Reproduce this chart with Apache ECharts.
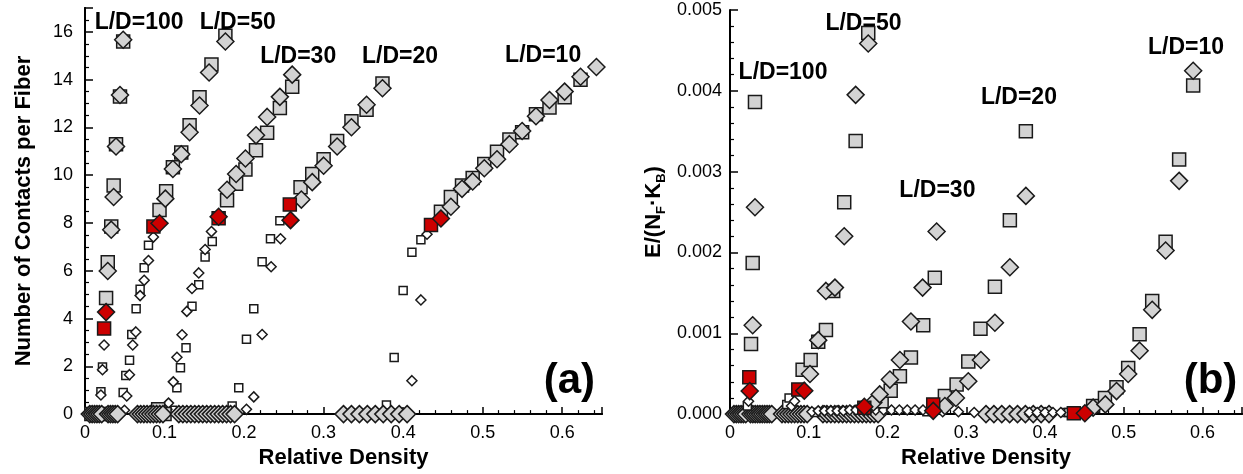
<!DOCTYPE html>
<html>
<head>
<meta charset="utf-8">
<script src="https://cdn.jsdelivr.net/npm/echarts@6/dist/echarts.min.js"></script>
<style>
  html, body { margin: 0; padding: 0; background: #fff; }
  #chart { width: 1243px; height: 474px; }
</style>
</head>
<body>
<div id="chart"></div>
<script>
// ---------- panel (a): contacts per fiber ----------
var graySquaresA = [
  [0.0265, 4.86], [0.0286, 6.36], [0.033, 7.85], [0.036, 9.57], [0.039, 11.3], [0.044, 13.3], [0.048, 15.6],
  [0.0937, 8.54], [0.102, 9.33], [0.1105, 10.33], [0.121, 10.95], [0.1315, 12.09], [0.144, 13.26], [0.159, 14.64], [0.1765, 15.84],
  [0.1786, 8.95], [0.19, 9.64], [0.2017, 10.24], [0.215, 11.05], [0.229, 11.78], [0.245, 12.81], [0.2605, 13.7],
  [0.271, 9.5], [0.2857, 10.05], [0.3, 10.67], [0.317, 11.43], [0.335, 12.26], [0.354, 12.74], [0.374, 13.84],
  [0.4475, 8.47], [0.46, 9.09], [0.474, 9.57], [0.4874, 9.88], [0.502, 10.47], [0.518, 10.98], [0.5336, 11.5],
  [0.5496, 11.8], [0.567, 12.55], [0.584, 12.84], [0.603, 13.26], [0.623, 14.0],
  [0.008, 0], [0.027, 0], [0.034, 0], [0.092, 0.2], [0.1, 0]
];
var grayDiamondsA = [
  [0.0286, 5.99], [0.033, 7.72], [0.036, 9.09], [0.039, 11.2], [0.044, 13.36], [0.048, 15.67],
  [0.101, 9.02], [0.1105, 10.26], [0.121, 10.88], [0.1315, 11.8], [0.144, 12.92], [0.156, 14.3], [0.1765, 15.6],
  [0.1786, 9.39], [0.19, 10.05], [0.2017, 10.7], [0.215, 11.67], [0.229, 12.44], [0.245, 13.28], [0.2605, 14.21],
  [0.272, 8.98], [0.2857, 9.71], [0.3, 10.4], [0.317, 11.2], [0.335, 12.01], [0.354, 12.95], [0.374, 13.64],
  [0.46, 8.68], [0.474, 9.43], [0.4874, 9.74], [0.502, 10.29], [0.518, 10.67], [0.5336, 11.3], [0.5496, 11.85],
  [0.567, 12.47], [0.584, 13.15], [0.603, 13.5], [0.623, 14.12], [0.643, 14.53]
];
var zeroDiamondsA = [
  0.006, 0.009, 0.012, 0.015, 0.018, 0.021, 0.029, 0.032, 0.035, 0.038, 0.041,
  0.066, 0.07, 0.074, 0.078, 0.082, 0.086, 0.09, 0.094, 0.098,
  0.118, 0.123, 0.128, 0.133, 0.138, 0.143, 0.148, 0.153, 0.158, 0.163, 0.168, 0.173, 0.178, 0.183, 0.188,
  0.325, 0.335, 0.345, 0.355, 0.365, 0.375, 0.385, 0.395, 0.405
];
var redSquaresA = [[0.024, 3.58], [0.086, 7.85], [0.168, 8.2], [0.2575, 8.77], [0.435, 7.92]];
var redDiamondsA = [[0.0265, 4.27], [0.0937, 7.99], [0.168, 8.26], [0.2584, 8.12], [0.4475, 8.19]];
var whiteSquaresA = [
  [0.02, 0.94], [0.022, 1.97],
  [0.048, 0.9], [0.0513, 1.62], [0.056, 2.25], [0.0588, 3.33], [0.0643, 4.41], [0.0693, 5.23], [0.0744, 6.13], [0.0798, 7.07],
  [0.11, 0.16], [0.1155, 1.1], [0.12, 1.94], [0.127, 2.78], [0.1345, 4.52], [0.143, 5.42], [0.151, 6.58], [0.16, 7.23],
  [0.185, 0.34], [0.1933, 1.1], [0.203, 3.13], [0.2122, 4.41], [0.2227, 6.38], [0.2332, 7.34], [0.245, 8.09],
  [0.379, 0.38], [0.3887, 2.37], [0.4, 5.17], [0.411, 6.78], [0.4223, 7.3]
];
var whiteDiamondsA = [
  [0.02, 0.8], [0.022, 1.86], [0.024, 2.89],
  [0.0496, 0.16], [0.0525, 0.76], [0.0559, 1.65], [0.06, 2.89], [0.0639, 3.44], [0.0693, 4.96], [0.0744, 5.6], [0.0798, 6.43], [0.086, 7.41],
  [0.103, 0.2], [0.105, 0.46], [0.111, 1.35], [0.1156, 2.38], [0.122, 3.32], [0.128, 4.3], [0.1345, 5.26], [0.143, 5.91], [0.151, 6.89], [0.159, 7.64],
  [0.203, 0.2], [0.2122, 0.72], [0.2227, 3.33], [0.234, 6.17], [0.2458, 7.34],
  [0.411, 1.4], [0.4223, 4.78], [0.43, 7.53]
];
var tagsA = [
  ['L/D=100', 0.068, 16.4], ['L/D=50', 0.192, 16.4], ['L/D=30', 0.268, 14.96],
  ['L/D=20', 0.396, 14.96], ['L/D=10', 0.576, 15.0]
];

// ---------- panel (b): energy ----------
var graySquaresB = [
  [0.0267, 0.000866], [0.0288, 0.00187], [0.0317, 0.003862],
  [0.0922, 0.00055], [0.1024, 0.00067], [0.112, 0.000894], [0.1218, 0.00104], [0.131, 0.001524], [0.145, 0.00262], [0.1595, 0.00338], [0.1755, 0.004715],
  [0.1925, 0.00016], [0.204, 0.00029], [0.2157, 0.000467], [0.2297, 0.0007], [0.2453, 0.0011], [0.26, 0.001687],
  [0.2728, 0.000223], [0.2877, 0.000366], [0.3025, 0.00065], [0.318, 0.001057], [0.3363, 0.001577], [0.3553, 0.0024], [0.3756, 0.0035],
  [0.461, 0.0001], [0.476, 0.0002], [0.4907, 0.000333], [0.5055, 0.00057], [0.52, 0.000988], [0.536, 0.0014], [0.553, 0.002134], [0.5702, 0.00315], [0.588, 0.004065]
];
var grayDiamondsB = [
  [0.0288, 0.0011], [0.0317, 0.00256],
  [0.1015, 0.000496], [0.112, 0.000915], [0.1218, 0.001524], [0.1332, 0.001565], [0.145, 0.0022], [0.1595, 0.00395], [0.1755, 0.004585],
  [0.182, 0.000143], [0.19, 0.000244], [0.203, 0.000427], [0.2157, 0.00067], [0.2297, 0.001146], [0.2445, 0.001565], [0.2623, 0.00226],
  [0.2728, 0.0001], [0.2868, 0.0002], [0.3025, 0.000406], [0.3185, 0.00067], [0.3363, 0.00113], [0.3553, 0.001817], [0.3756, 0.0027],
  [0.461, 0.00008], [0.4765, 0.00012], [0.4907, 0.000285], [0.5055, 0.000496], [0.52, 0.000785], [0.536, 0.00129], [0.553, 0.002024], [0.5702, 0.002886], [0.588, 0.004248]
];
var zeroDiamondsB = [
  0.005, 0.008, 0.011, 0.014, 0.017, 0.02, 0.026, 0.029, 0.032, 0.035, 0.038, 0.041, 0.044, 0.047, 0.05, 0.053,
  0.066, 0.07, 0.074, 0.078, 0.082, 0.086, 0.09, 0.094, 0.098,
  0.118, 0.123, 0.128, 0.133, 0.138, 0.143, 0.148, 0.153, 0.158, 0.163, 0.168, 0.173, 0.178, 0.183, 0.188,
  0.325, 0.335, 0.345, 0.355, 0.365, 0.375, 0.385, 0.395, 0.405
];
var redSquaresB = [[0.0245, 0.000455], [0.0867, 0.000305], [0.1705, 0.00008], [0.258, 0.00012], [0.4365, 0.00001]];
var redDiamondsB = [[0.025, 0.000285], [0.0943, 0.00029], [0.1705, 0.00009], [0.258, 0.00004], [0.4505, 0.00001]];
var whiteSquaresB = [
  [0.022, 0.0001], [0.072, 0.00012], [0.075, 0.0002], [0.108, 0.00002], [0.25, 0.00003], [0.425, 0.00002], [0.43, 0.00002]
];
var whiteDiamondsB = [
  [0.0235, 0.00016], [0.078, 0.0001], [0.082, 0.00016],
  [0.104, 0.00003], [0.112, 0.00004], [0.12, 0.00004], [0.128, 0.00004], [0.136, 0.00004], [0.144, 0.00004], [0.152, 0.00005],
  [0.16, 0.00005], [0.176, 0.00005], [0.185, 0.00005], [0.195, 0.00005], [0.205, 0.00005], [0.215, 0.00005], [0.225, 0.00005],
  [0.235, 0.00005], [0.245, 0.00005], [0.27, 0.00003], [0.29, 0.00003], [0.31, 0.00002],
  [0.38, 0.00002], [0.39, 0.00002], [0.4, 0.00002], [0.41, 0.00002], [0.42, 0.00002]
];
var tagsB = [
  ['L/D=100', 0.0673, 0.004226], ['L/D=50', 0.1694, 0.00483], ['L/D=30', 0.2633, 0.002768],
  ['L/D=20', 0.3668, 0.003915], ['L/D=10', 0.579, 0.004533]
];

var font = '"Liberation Sans", Arial, Helvetica, sans-serif';

function zeros(xs) {
  return xs.map(function (x) { return [x, 0]; });
}

function marks(data, xi, yi, symbol, size, fill, z) {
  return {
    type: 'scatter',
    xAxisIndex: xi,
    yAxisIndex: yi,
    data: data,
    symbol: symbol,
    symbolSize: size,
    clip: false,
    silent: true,
    z: z,
    itemStyle: { color: fill, borderColor: '#1a1a1a', borderWidth: 1.5, opacity: 1 }
  };
}

// text placed at data coordinates (panel labels)
function tags(list, xi, yi, size) {
  return {
    type: 'scatter',
    xAxisIndex: xi,
    yAxisIndex: yi,
    symbolSize: 0,
    clip: false,
    silent: true,
    z: 20,
    itemStyle: { opacity: 1 },
    data: list.map(function (t) { return { name: t[0], value: [t[1], t[2]] }; }),
    label: {
      show: true,
      position: 'inside',
      formatter: '{b}',
      color: '#000',
      opacity: 1,
      fontFamily: font,
      fontWeight: 'bold',
      fontSize: size
    }
  };
}

function xMain(grid, name) {
  return {
    type: 'value', gridIndex: grid, min: 0, max: 0.65, interval: 0.1,
    name: name, nameLocation: 'middle', nameGap: 25,
    nameTextStyle: { fontFamily: font, fontWeight: 'bold', fontSize: 22, color: '#000' },
    axisLine: { onZero: false, lineStyle: { color: '#000', width: 2 } },
    axisTick: { inside: true, length: 7, lineStyle: { color: '#000', width: 1.5 } },
    minorTick: { show: true, splitNumber: 5, length: 4, lineStyle: { color: '#000', width: 1.2 } },
    splitLine: { show: false },
    axisLabel: {
      showMaxLabel: false, margin: 10, color: '#000', fontFamily: font, fontSize: 18,
      formatter: function (v) { return v === 0 ? '0' : v.toFixed(1); }
    }
  };
}

function border(grid, pos) {
  return {
    type: 'value', gridIndex: grid, position: pos, min: 0, max: 1,
    axisLine: { show: true, lineStyle: { color: '#000', width: 2 } },
    axisTick: { show: false }, axisLabel: { show: false }, splitLine: { show: false }
  };
}

var chart = echarts.init(document.getElementById('chart'));

var option = {
  backgroundColor: '#fff',
  animation: false,
  grid: [
    { left: 85, top: 8, width: 517, height: 412 },
    { left: 730, top: 10, width: 512, height: 410 }
  ],
  xAxis: [
    xMain(0, 'Relative Density'),
    xMain(1, 'Relative Density'),
    border(0, 'top'),
    border(1, 'top')
  ],
  yAxis: [
    {
      type: 'value', gridIndex: 0, min: 0, max: 17, interval: 2,
      name: 'Number of Contacts per Fiber', nameLocation: 'middle', nameGap: 50,
      nameTextStyle: { fontFamily: font, fontWeight: 'bold', fontSize: 22, color: '#000' },
      axisLine: { show: true, lineStyle: { color: '#000', width: 2 } },
      axisTick: { show: true, inside: true, length: 8, lineStyle: { color: '#000', width: 1.5 } },
      minorTick: { show: true, splitNumber: 4, length: 4, lineStyle: { color: '#000', width: 1.2 } },
      splitLine: { show: false },
      axisLabel: { showMaxLabel: false, margin: 12, color: '#000', fontFamily: font, fontSize: 18 }
    },
    {
      type: 'value', gridIndex: 1, min: 0, max: 0.005, interval: 0.001,
      name: '{m|E/(N}{s|F}{m|·K}{s|B}{m|)}', nameLocation: 'middle', nameGap: 62,
      nameTextStyle: {
        fontFamily: font, fontWeight: 'bold', fontSize: 22, color: '#000',
        rich: {
          m: { fontFamily: font, fontWeight: 'bold', fontSize: 22, color: '#000', lineHeight: 28 },
          s: { fontFamily: font, fontWeight: 'bold', fontSize: 13, color: '#000', lineHeight: 13, verticalAlign: 'bottom' }
        }
      },
      axisLine: { show: true, lineStyle: { color: '#000', width: 2 } },
      axisTick: { show: true, inside: true, length: 8, lineStyle: { color: '#000', width: 1.5 } },
      minorTick: { show: true, splitNumber: 5, length: 4, lineStyle: { color: '#000', width: 1.2 } },
      splitLine: { show: false },
      axisLabel: {
        margin: 8, color: '#000', fontFamily: font, fontSize: 18,
        formatter: function (v) { return v.toFixed(3); }
      }
    },
    border(0, 'right')
  ],
  series: [
    marks(whiteSquaresA, 0, 0, 'rect', 8, '#fff', 2),
    marks(whiteDiamondsA, 0, 0, 'diamond', 10, '#fff', 2),
    marks(graySquaresA, 0, 0, 'rect', 13, '#d3d3d3', 3),
    marks(zeros(zeroDiamondsA), 0, 0, 'diamond', 17, '#d3d3d3', 4),
    marks(grayDiamondsA, 0, 0, 'diamond', 17, '#d3d3d3', 4),
    marks(redSquaresA, 0, 0, 'rect', 13, '#cc0000', 5),
    marks(redDiamondsA, 0, 0, 'diamond', 17, '#cc0000', 6),
    tags(tagsA, 0, 0, 23),
    tags([['(a)', 0.609, 1.36]], 0, 0, 42),

    marks(zeros(zeroDiamondsB), 1, 1, 'diamond', 17, '#d3d3d3', 2),
    marks(whiteSquaresB, 1, 1, 'rect', 8, '#fff', 3),
    marks(whiteDiamondsB, 1, 1, 'diamond', 10, '#fff', 3),
    marks(graySquaresB, 1, 1, 'rect', 13, '#d3d3d3', 4),
    marks(grayDiamondsB, 1, 1, 'diamond', 17, '#d3d3d3', 4),
    marks(redSquaresB, 1, 1, 'rect', 13, '#cc0000', 5),
    marks(redDiamondsB, 1, 1, 'diamond', 17, '#cc0000', 6),
    tags(tagsB, 1, 1, 23),
    tags([['(b)', 0.61, 0.000402]], 1, 1, 42)
  ]
};

chart.setOption(option);
</script>
</body>
</html>
